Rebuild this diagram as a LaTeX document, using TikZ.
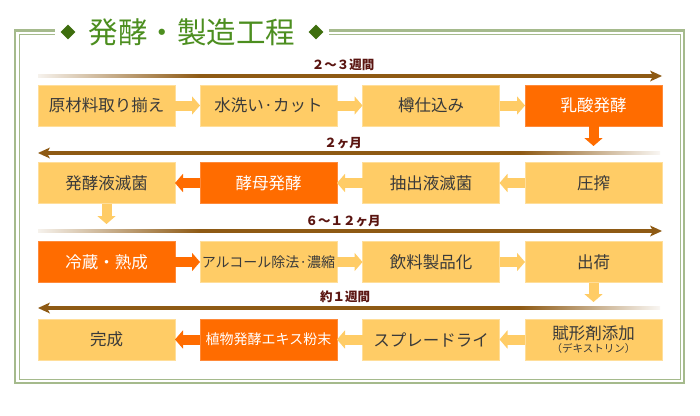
\documentclass[tikz,border=0pt]{standalone}
\usepackage{fontspec}
\setmainfont{Noto Sans CJK JP}
\usetikzlibrary{arrows.meta,shapes.geometric}
\definecolor{boxpale}{HTML}{FFCC66}
\definecolor{boxpaleline}{HTML}{FFDE9A}
\definecolor{boxhot}{HTML}{FF6C00}
\definecolor{boxhotline}{HTML}{FF8A3A}
\definecolor{boxtext}{HTML}{3A3A3A}
\definecolor{framegreen}{HTML}{A5BA8C}
\definecolor{titlegreen}{HTML}{4C8E1F}
\definecolor{markgreen}{HTML}{3E6E0E}
\definecolor{tlbrown}{HTML}{8E5A14}
\definecolor{spantext}{HTML}{5A1410}

\begin{document}
\begin{tikzpicture}[x=1pt, y=-1pt,
	box/.style={rectangle, minimum width=137pt, minimum height=41pt, inner sep=0pt, outer sep=0pt, line width=0.8pt, font=\fontsize{16.5}{16.5}\selectfont},
	palebox/.style={box, fill=boxpale, draw=boxpaleline, text=boxtext},
	hotbox/.style={box, fill=boxhot, draw=boxhotline, text=white},
	palearrow/.style={draw=boxpale, line width=10pt, -{Triangle[length=8pt, width=18pt]}},
	hotarrow/.style={draw=boxhot, line width=10pt, -{Triangle[length=8pt, width=18pt]}},
	span/.style={inner sep=0pt, text=spantext, font=\fontsize{12.5}{12.5}\selectfont\bfseries},
	titlemark/.style={diamond, fill=markgreen, inner sep=0pt, minimum size=15pt}]
			\useasboundingbox (0,0) rectangle (700,415);
			
			% frame with title
			\draw[framegreen, line width=2.5pt] (15,30.5) rectangle (684,383);
			\draw[framegreen, line width=1pt] (19.5,34.5) rectangle (680,379.5);
			\fill[white] (55,20) rectangle (329,40);
			\node[titlemark] (markl) at (68,32){};
			\node[titlemark] (markr) at (316,32){};
			\node[text=titlegreen, inner sep=0pt, font=\fontsize{29.5}{29.5}\selectfont] (title) at (192,32){発酵・製造工程};
			
			% time spans
			\shade[left color=tlbrown!8, right color=tlbrown] (38,74.3) rectangle (200,77.7);
			\fill[tlbrown] (199.5,74.3) rectangle (653,77.7);
			\fill[tlbrown] (662,76) -- (650,70.5) -- (653,76) -- (650,81.5) -- cycle;
			\node[span] (span1) at (343,65){２～３週間};
			
			\fill[tlbrown] (47,151.3) rectangle (520.5,154.7);
			\shade[left color=tlbrown, right color=tlbrown!5] (520,151.3) rectangle (660,154.7);
			\fill[tlbrown] (38,153) -- (50,147.5) -- (47,153) -- (50,158.5) -- cycle;
			\node[span] (span2) at (343,143){２ヶ月};
			
			\shade[left color=tlbrown!8, right color=tlbrown] (38,229.3) rectangle (200,232.7);
			\fill[tlbrown] (199.5,229.3) rectangle (653,232.7);
			\fill[tlbrown] (662,231) -- (650,225.5) -- (653,231) -- (650,236.5) -- cycle;
			\node[span] (span3) at (343,221){６～１２ヶ月};
			
			\fill[tlbrown] (47,306.3) rectangle (520.5,309.7);
			\shade[left color=tlbrown, right color=tlbrown!5] (520,306.3) rectangle (660,309.7);
			\fill[tlbrown] (38,308) -- (50,302.5) -- (47,308) -- (50,313.5) -- cycle;
			\node[span] (span4) at (345,297){約１週間};
			
			% steps
			\node[palebox] (r1a) at (106.5,105.5){原材料取り揃え};
			\node[palebox] (r1b) at (268.5,105.5){水洗い·カット};
			\node[palebox] (r1c) at (431,105.5){樽仕込み};
			\node[hotbox] (r1d) at (593.5,105.5){乳酸発酵};
			
			\node[palebox] (r2a) at (106.5,183){発酵液滅菌};
			\node[hotbox] (r2b) at (268.5,183){酵母発酵};
			\node[palebox] (r2c) at (431,183){抽出液滅菌};
			\node[palebox] (r2d) at (593.5,183){圧搾};
			
			\node[hotbox] (r3a) at (106.5,262){冷蔵・熟成};
			\node[palebox, font=\fontsize{14}{14}\selectfont] (r3b) at (268.5,262){アルコール除法·濃縮};
			\node[palebox] (r3c) at (431,262){飲料製品化};
			\node[palebox] (r3d) at (593.5,262){出荷};
			
			\node[palebox] (r4a) at (106.5,339.5){完成};
			\node[hotbox, font=\fontsize{14}{14}\selectfont] (r4b) at (268.5,339.5){植物発酵エキス粉末};
			\node[palebox] (r4c) at (431,339.5){スプレードライ};
			\node[palebox, align=center] (r4d) at (593.5,339.5){賦形剤添加\\[-3pt]{\fontsize{10.5}{10.5}\selectfont （デキストリン）}};
			
			\coordinate (down1) at (593.5,146);
			\coordinate (down2) at (106.5,224);
			\coordinate (down3) at (593.5,302);
			
			\path (r1a) edge[palearrow] (r1b);
			\path (r1b) edge[palearrow] (r1c);
			\path (r1c) edge[palearrow] (r1d);
			\path (r1d) edge[hotarrow] (down1);
			\path (r2d) edge[palearrow] (r2c);
			\path (r2c) edge[palearrow] (r2b);
			\path (r2b) edge[hotarrow] (r2a);
			\path (r2a) edge[palearrow] (down2);
			\path (r3a) edge[hotarrow] (r3b);
			\path (r3b) edge[palearrow] (r3c);
			\path (r3c) edge[palearrow] (r3d);
			\path (r3d) edge[palearrow] (down3);
			\path (r4d) edge[palearrow] (r4c);
			\path (r4c) edge[palearrow] (r4b);
			\path (r4b) edge[hotarrow] (r4a);
\end{tikzpicture}
\end{document}
